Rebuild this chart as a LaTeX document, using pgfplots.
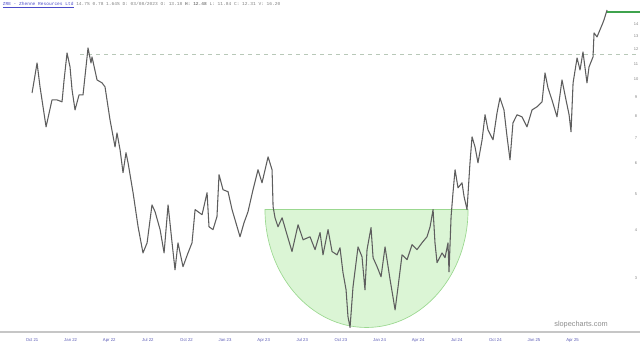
\documentclass[border=0pt]{standalone}
\usepackage{fontspec}
\setmainfont{Liberation Sans}
\setmonofont{Liberation Mono}
\usepackage{pgfplots}
\pgfplotsset{compat=1.18}
\usetikzlibrary{calc}
\definecolor{price}{HTML}{5E5E5E}
\definecolor{cupfill}{HTML}{DBF5D5}
\definecolor{cupedge}{HTML}{9BD890}
\definecolor{hdrblue}{HTML}{4B4BC8}
\definecolor{ticklbl}{HTML}{5A5AB4}
\definecolor{lvl}{HTML}{3FA34D}
\definecolor{dashcol}{HTML}{B8C8B8}
\begin{document}
\begin{tikzpicture}
\begin{axis}[
  scale only axis, width=480pt, height=249pt,
  xmin=-2.49, xmax=47.24, ymin=2.16, ymax=16.19, ymode=log,
  axis line style={draw=none},
  tick style={draw=none},
  clip=false,
  xtick={0,3,...,42},
  xticklabels={Oct 21,Jan 22,Apr 22,Jul 22,Oct 22,Jan 23,Apr 23,Jul 23,Oct 23,Jan 24,Apr 24,Jul 24,Oct 24,Jan 25,Apr 25},
  xticklabel style={font=\fontsize{3.2}{4}\selectfont, text=ticklbl, yshift=-1.5pt},
  ytick={3,4,5,6,7,8,9,10,11,12,13,14},
  yticklabels={3,4,5,6,7,8,9,10,11,12,13,14},
  yticklabel pos=right,
  yticklabel style={anchor=center, xshift=-3pt, font=\fontsize{3}{3.5}\selectfont, text=gray},
]
\coordinate (BL) at (rel axis cs:0,0);
\coordinate (TR) at (rel axis cs:1,1);
% cup
\fill[cupfill, draw=cupedge, line width=0.5pt] let \p1=(axis cs:18.10,4.54), \p2=(axis cs:33.88,4.54), \p3=(axis cs:25.99,2.22) in
  (\p1) arc[start angle=180, end angle=360, x radius={0.5*(\x2-\x1)}, y radius={\y1-\y3}] -- cycle;
% bottom line
\draw[gray!45, line width=1pt] (rel axis cs:0,0) -- (rel axis cs:1,0);
% dashed resistance
\addplot[dashcol, dashed, line width=0.5pt] coordinates {(3.73,11.67) (47.24,11.67)};
% price
\addplot[price, line width=0.8pt, line join=round] coordinates {
(0,9.21) (0.39,11.05) (0.62,9.56) (1.09,7.50) (1.55,8.83) (1.94,8.83) (2.33,8.73) (2.49,9.97)
(2.72,11.74) (2.95,10.79) (3.11,9.38) (3.34,8.31) (3.65,9.10) (3.96,9.10) (4.35,12.10) (4.58,11.05)
(4.66,11.46) (5.05,9.97) (5.44,9.79) (5.67,9.56) (6.06,7.82) (6.45,6.64) (6.60,7.23) (6.84,6.52)
(7.07,5.68) (7.30,6.41) (7.46,6.03) (7.85,5.03) (8.24,4.09) (8.62,3.49) (8.94,3.71) (9.32,4.67)
(9.56,4.48) (9.95,4.02) (10.26,3.49) (10.57,4.67) (10.88,3.71) (11.11,3.15) (11.34,3.71) (11.73,3.21)
(12.12,3.49) (12.43,3.71) (12.67,4.54) (13.21,4.40) (13.60,5.03) (13.75,4.09) (14.06,4.02) (14.37,4.35)
(14.53,5.61) (14.84,5.12) (15.23,5.06) (15.54,4.54) (16.16,3.85) (16.47,4.19) (16.78,4.48) (17.17,5.12)
(17.56,5.78) (17.87,5.34) (18.34,6.25) (18.65,5.78) (18.73,4.62) (18.88,4.32) (19.11,4.09) (19.43,4.32)
(19.81,3.90) (20.20,3.52) (20.67,4.14) (21.06,3.78) (21.60,3.85) (21.99,3.56) (22.38,3.95) (22.61,3.45)
(23.00,4.02) (23.31,3.52) (23.70,3.45) (23.93,3.60) (24.16,3.10) (24.40,2.79) (24.55,2.37) (24.71,2.22)
(24.94,2.84) (25.33,3.62) (25.64,3.41) (25.87,2.79) (26.03,3.56) (26.34,4.07) (26.50,3.39) (26.81,3.21)
(27.12,3.02) (27.43,3.62) (27.82,2.97) (28.21,2.47) (28.44,2.84) (28.75,3.45) (29.14,3.35) (29.53,3.67)
(29.91,3.56) (30.30,3.71) (30.69,3.85) (30.93,4.09) (31.16,4.54) (31.31,3.71) (31.47,3.29) (31.86,3.49)
(32.09,3.39) (32.32,3.71) (32.40,3.11) (32.56,4.35) (32.71,5.03) (32.87,5.78) (33.10,5.18) (33.41,5.34)
(33.57,4.91) (33.80,4.54) (34.03,6.03) (34.19,7.06) (34.42,6.64) (34.65,6.03) (34.97,6.93) (35.20,8.07)
(35.43,7.36) (35.82,6.93) (36.13,8.16) (36.36,8.94) (36.67,8.31) (36.91,7.06) (37.14,6.14) (37.37,7.68)
(37.68,8.07) (38.07,7.97) (38.46,7.50) (38.85,8.31) (39.24,8.47) (39.63,8.73) (39.86,10.40) (40.09,9.50)
(40.40,8.83) (40.79,7.97) (41.18,9.97) (41.49,8.83) (41.73,8.07) (41.88,7.28) (42.04,9.79) (42.35,11.39)
(42.58,10.59) (42.81,11.81) (43.12,9.79) (43.28,10.79) (43.59,11.46) (43.67,13.26) (43.90,12.94) (44.29,13.92)
(44.44,14.34) (44.68,15.24)
};
% last price level
\addplot[lvl, line width=1.1pt] coordinates {(44.68,15.06) (47.24,15.06)};
% header
\node[anchor=west, inner sep=0, font=\ttfamily\fontsize{3.4}{4}\selectfont] at (rel axis cs:0.004,0.985)
  {\textcolor{hdrblue}{\underline{ZRE - Zhenne Resources Ltd}} \textcolor{gray}{14.7\% 0.78 1.64\% D: 03/08/2023 O: 13.18 \textbf{H: 12.48} L: 11.84 C: 12.31 V: 16.20}};
\node[anchor=east, inner sep=0, font=\fontsize{5.5}{6}\selectfont, text=gray!90] at (rel axis cs:0.95,0.021) {slopecharts.com};
\end{axis}
\pgfresetboundingbox
\path (BL) ++(0,-8.25pt) rectangle (TR);
\end{tikzpicture}
\end{document}
